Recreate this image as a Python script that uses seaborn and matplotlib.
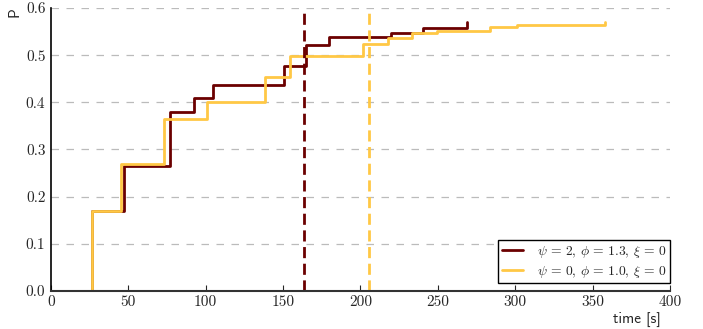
import numpy as np
import pandas as pd
import matplotlib.pyplot as plt
import seaborn as sns

# step curves
t_a = [0, 26.5, 47.0, 77.0, 92.5, 104.5, 150.5, 165.0, 179.5, 219.5, 240.5, 269.0]
p_a = [0.0, 0.17, 0.265, 0.38, 0.41, 0.437, 0.476, 0.521, 0.539, 0.548, 0.557, 0.57]
t_b = [0, 26.5, 45.0, 73.0, 101.0, 138.5, 154.5, 201.5, 217.5, 233.5, 249.5, 283.5, 301.0, 358.0]
p_b = [0.0, 0.17, 0.27, 0.365, 0.401, 0.453, 0.498, 0.523, 0.536, 0.546, 0.552, 0.56, 0.564, 0.571]
vline_a = 163.3
vline_b = 205.3

labels = [r'$\psi\,=\,2,\, \phi\,=\,1.3,\, \xi\,=\,0$', r'$\psi\,=\,0,\, \phi\,=\,1.0,\, \xi\,=\,0$']
colors = ['#6b0000', '#ffc845']
x_ticks = [0, 50, 100, 150, 200, 250, 300, 350, 400]
y_ticks = [0.0, 0.1, 0.2, 0.3, 0.4, 0.5, 0.6]

df = pd.concat([
    pd.DataFrame({'time': t_a, 'P': p_a, 'run': labels[0]}),
    pd.DataFrame({'time': t_b, 'P': p_b, 'run': labels[1]}),
], ignore_index=True)

sns.set_style('white')
plt.rcParams['mathtext.fontset'] = 'cm'
plt.rcParams['font.family'] = ['cmr10', 'DejaVu Serif']
plt.rcParams['axes.formatter.use_mathtext'] = True

fig = plt.figure(figsize=(7.03, 3.29), dpi=100)
ax = fig.add_axes([0.0725, 0.1155, 0.8805, 0.8602])

ax.yaxis.grid(True, color='#bbbbbb', linestyle=(0, (6, 6)), linewidth=0.9)
ax.set_axisbelow(True)

sns.lineplot(data=df, x='time', y='P', hue='run', palette=colors, ax=ax,
             estimator=None, sort=False, drawstyle='steps-post', linewidth=2.0)

ax.axvline(vline_a, ymin=0, ymax=0.985, color=colors[0], linestyle=(0, (4, 2)), linewidth=2.0)
ax.axvline(vline_b, ymin=0, ymax=0.985, color=colors[1], linestyle=(0, (4, 2)), linewidth=2.0)

ax.set_xlim(0, 400)
ax.set_ylim(0, 0.6)
ax.set_xticks(x_ticks)
ax.set_yticks(y_ticks)
ax.set_xticklabels([str(v) for v in x_ticks])
ax.set_yticklabels(['%.1f' % v for v in y_ticks])
ax.tick_params(axis='x', direction='in', length=4, width=0.8, bottom=True, labelsize=11, pad=3)
ax.tick_params(axis='y', length=0, labelsize=11, pad=4)

for side in ['top', 'right']:
    ax.spines[side].set_visible(False)
ax.spines['left'].set_color('black')
ax.spines['left'].set_linewidth(1.2)
ax.spines['bottom'].set_color('#333333')
ax.spines['bottom'].set_linewidth(1.5)

ax.set_xlabel('time [s]', family='cmss10', fontsize=11)
ax.xaxis.set_label_coords(0.985, -0.075)
ax.xaxis.label.set_ha('right')
ax.set_ylabel('P', family='cmss10', fontsize=11)
ax.yaxis.set_label_coords(-0.07, 0.985)
ax.yaxis.label.set_va('top')

leg = ax.legend(loc='lower right', bbox_to_anchor=(1.0, 0.028), frameon=True, fancybox=False,
                fontsize=9.8, edgecolor='black', framealpha=1, borderaxespad=0, borderpad=0.25,
                handlelength=1.6, handletextpad=1.0, labelspacing=0.3)
leg.get_frame().set_linewidth(1.0)

fig.savefig('out.png', dpi=100)
